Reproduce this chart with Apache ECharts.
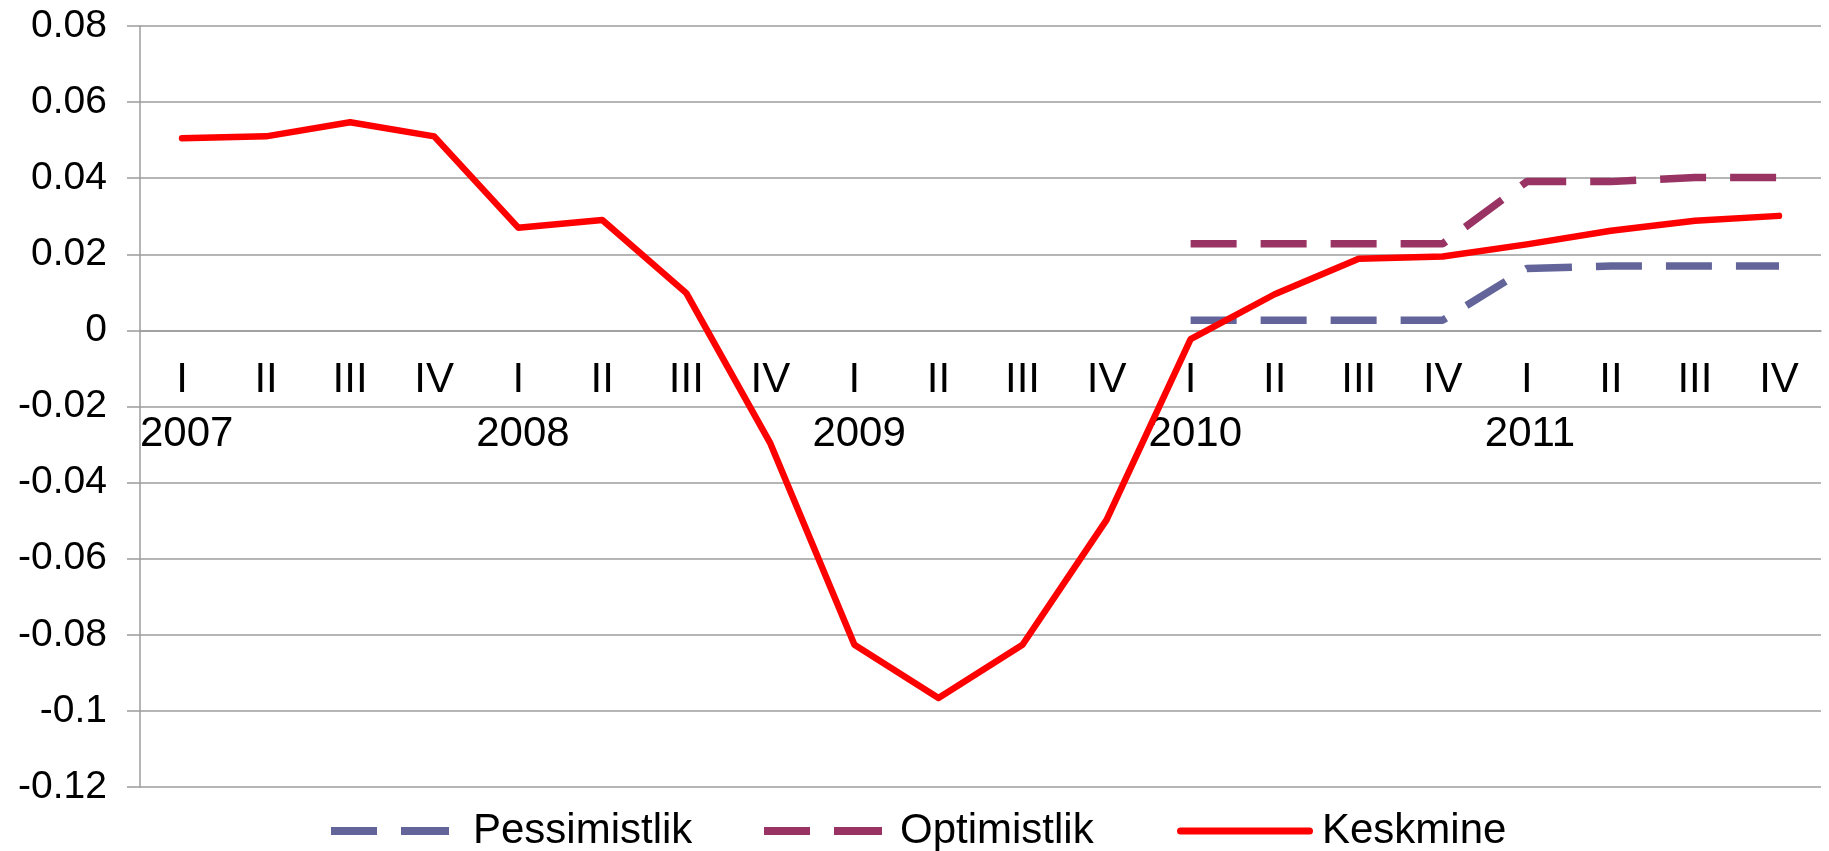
<!DOCTYPE html>
<html>
<head>
<meta charset="utf-8">
<script src="https://cdn.jsdelivr.net/npm/echarts@6/dist/echarts.min.js"></script>
<style>
  html, body { margin: 0; padding: 0; background: #fff; }
  #chart { width: 1829px; height: 851px; }
</style>
</head>
<body>
<div id="chart"></div>
<script>
var quarters = ['I', 'II', 'III', 'IV', 'I', 'II', 'III', 'IV', 'I', 'II', 'III', 'IV',
  'I', 'II', 'III', 'IV', 'I', 'II', 'III', 'IV'];
// year labels sit on the category boundaries (21 points)
var years = ['2007', '', '', '', '2008', '', '', '', '2009', '', '', '', '2010', '', '', '', '2011', '', '', '', ''];

var keskmine = [0.0505, 0.051, 0.0547, 0.051, 0.027, 0.029, 0.0098, -0.0297,
  -0.0826, -0.0966, -0.0826, -0.0498, -0.0023, 0.0095, 0.0188, 0.0194,
  0.0226, 0.0262, 0.0288, 0.0301];
var optimistlik = [null, null, null, null, null, null, null, null, null, null, null, null,
  0.0228, 0.0228, 0.0228, 0.0228, 0.0391, 0.0391, 0.0402, 0.0402];
var pessimistlik = [null, null, null, null, null, null, null, null, null, null, null, null,
  0.0027, 0.0027, 0.0027, 0.0027, 0.0163, 0.0169, 0.0169, 0.0169];

var yMin = -0.12, yMax = 0.08, yStep = 0.02;

var font = 'Liberation Sans, Arial, sans-serif';
var gridColor = '#9c9c9c';
var gridTop = 26, gridBottom = 64, chartH = 851;

// pixel position of y = 0, used to put the quarter axis there
var plotH = chartH - gridTop - gridBottom;
var zeroY = gridTop + plotH * (yMax - 0) / (yMax - yMin);
var minus02Y = gridTop + plotH * (yMax + 0.02) / (yMax - yMin);
var bottomY = chartH - gridBottom;

var myChart = echarts.init(document.getElementById('chart'));

var dashIcon = 'path://M0,0H46V8H0Z M70,0H118V8H70Z';
var solidIcon = 'path://M3.5,0H132.5A3.5,3.5,0,0,1,132.5,7H3.5A3.5,3.5,0,0,1,3.5,0Z';

function legendAt(name, left, icon, w, h, gap) {
  return {
    data: [name],
    left: left,
    top: 810,
    icon: icon,
    itemWidth: w,
    itemHeight: h,
    itemGap: 0,
    padding: 0,
    textStyle: { fontSize: 42, color: '#000', fontFamily: font, padding: [0, 0, 0, gap] }
  };
}

var option = {
  animation: false,
  backgroundColor: '#fff',
  legend: [
    legendAt('Pessimistlik', 331, dashIcon, 118, 8, 19),
    legendAt('Optimistlik', 764, dashIcon, 118, 8, 13),
    legendAt('Keskmine', 1177, solidIcon, 136, 7, 4)
  ],
  grid: { left: 140, right: 8, top: gridTop, bottom: gridBottom },
  xAxis: [{
    type: 'category',
    data: quarters,
    position: 'bottom',
    offset: -(bottomY - zeroY),
    axisLine: { onZero: false, lineStyle: { color: gridColor, width: 1.5 } },
    axisTick: { length: 13, lineStyle: { color: gridColor, width: 1.5 } },
    axisLabel: { fontSize: 42, color: '#000', fontFamily: font, margin: 29 }
  }, {
    type: 'category',
    data: years,
    boundaryGap: false,
    position: 'bottom',
    offset: -(bottomY - minus02Y),
    axisLine: { show: false },
    axisTick: { show: false },
    axisLabel: {
      fontSize: 42, color: '#000', fontFamily: font, margin: 7, align: 'left',
      interval: 0
    }
  }],
  yAxis: {
    type: 'value',
    min: yMin,
    max: yMax,
    interval: yStep,
    axisLine: { show: true, lineStyle: { color: gridColor, width: 1.5 } },
    axisTick: { show: true, length: 13, lineStyle: { color: gridColor, width: 1.5 } },
    splitLine: { lineStyle: { color: gridColor, width: 1.5 } },
    axisLabel: {
      fontSize: 39, color: '#000', fontFamily: font, margin: 33,
      formatter: function (v) { return String(+v.toFixed(2)); }
    }
  },
  series: [{
    name: 'Pessimistlik',
    type: 'line',
    data: pessimistlik,
    symbol: 'none',
    color: '#63659a',
    lineStyle: { color: '#63659a', width: 7.5, type: [46, 24] },
    z: 2
  }, {
    name: 'Optimistlik',
    type: 'line',
    data: optimistlik,
    symbol: 'none',
    color: '#993363',
    lineStyle: { color: '#993363', width: 7.5, type: [46, 24] },
    z: 2
  }, {
    name: 'Keskmine',
    type: 'line',
    data: keskmine,
    symbol: 'none',
    color: '#ff0000',
    lineStyle: { color: '#ff0000', width: 6.5, cap: 'round', join: 'round' },
    z: 3
  }]
};
myChart.setOption(option);
</script>
</body>
</html>
